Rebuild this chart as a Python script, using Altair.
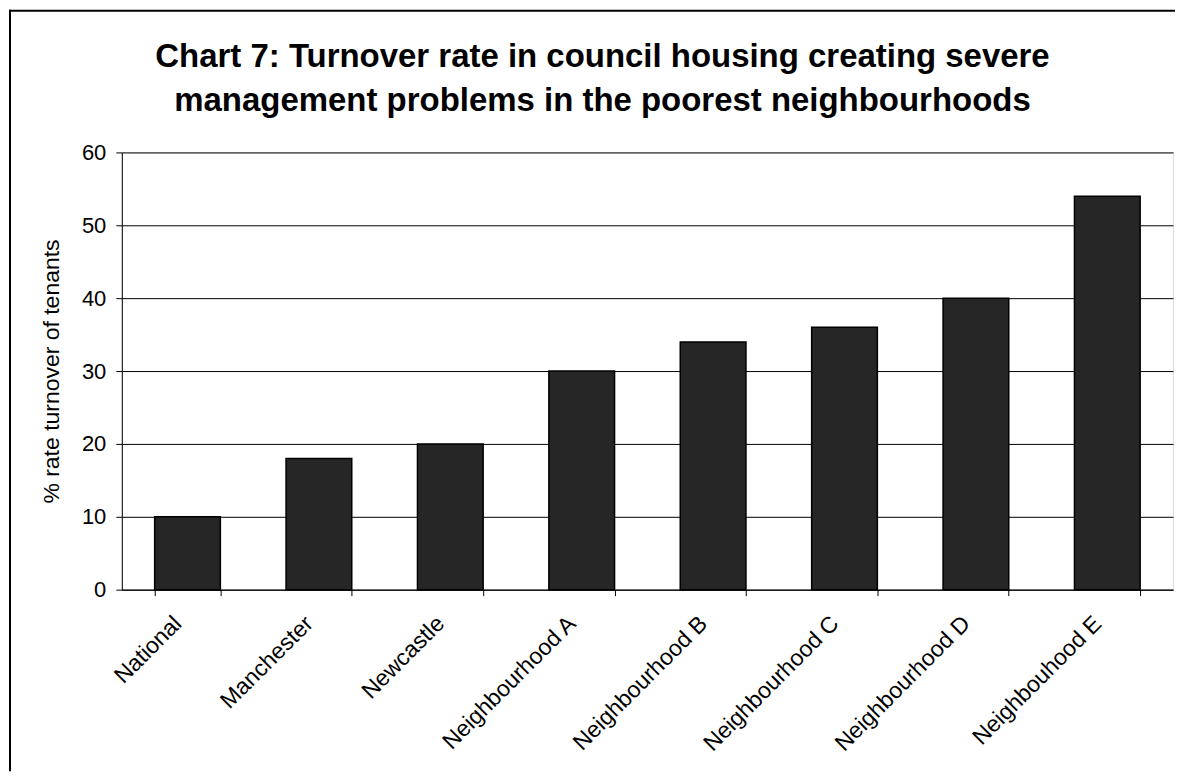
import altair as alt
import pandas as pd

categories = ["National", "Manchester", "Newcastle", "Neighbourhood A",
              "Neighbourhood B", "Neighbourhood C", "Neighbourhood D", "Neighbouhood E"]
values = [10, 18, 20, 30, 34, 36, 40, 54]
y_ticks = [0, 10, 20, 30, 40, 50, 60]
title_lines = ["Chart 7: Turnover rate in council housing creating severe",
               "management problems in the poorest neighbourhoods"]
y_title = "% rate turnover of tenants"

df = pd.DataFrame({"area": categories, "rate": values})

W, H = 1053, 438
FONT = "Liberation Sans"

bars = alt.Chart(df).mark_bar(fill="#262626", stroke="#000000", strokeWidth=1.5).encode(
    x=alt.X("area:N", sort=categories,
            scale=alt.Scale(paddingInner=0.5, paddingOuter=0.25),
            axis=alt.Axis(title=None, labelAngle=-45, labelAlign="right",
                          labelBaseline="middle", labelFontSize=23, labelFont=FONT,
                          labelColor="#000000", tickBand="extent", tickSize=6,
                          tickColor="#000000", domainColor="#000000", labelPadding=24,
                          labelOffset=-10, labelLimit=400, grid=False, labelOverlap=False)),
    y=alt.Y("rate:Q", scale=alt.Scale(domain=[0, 60], nice=False),
            axis=alt.Axis(values=y_ticks, title=y_title, titleFont=FONT,
                          titleFontSize=23, titleFontWeight="normal", titleColor="#000000",
                          titlePadding=18, labelFont=FONT, labelFontSize=22,
                          labelColor="#000000", labelPadding=10, tickSize=6,
                          tickColor="#000000", domainColor="#000000",
                          gridColor="#000000", gridOpacity=1, gridWidth=1)),
)

frame_data = alt.Data(values=[{}])
frame_left = alt.Chart(frame_data).mark_rule(color="#000000", strokeWidth=2).encode(
    x=alt.value(-112), y=alt.value(-143), y2=alt.value(H + 182),
)
frame_top = alt.Chart(frame_data).mark_rule(color="#000000", strokeWidth=2).encode(
    x=alt.value(-113), x2=alt.value(W + 2), y=alt.value(-142),
)

chart = alt.layer(frame_left, frame_top, bars).properties(
    width=W, height=H,
    padding={"left": 0, "top": 0, "right": 0, "bottom": 0},
    title=alt.TitleParams(text=title_lines, font=FONT, fontSize=33, fontWeight="bold",
                          color="#000000", anchor="middle", frame="group", dx=-45,
                          lineHeight=45, offset=-110),
).configure_view(stroke="#555555", strokeWidth=1.5).configure(background="white")

chart.save("out.html", embed_options={"renderer": "svg", "actions": False})
